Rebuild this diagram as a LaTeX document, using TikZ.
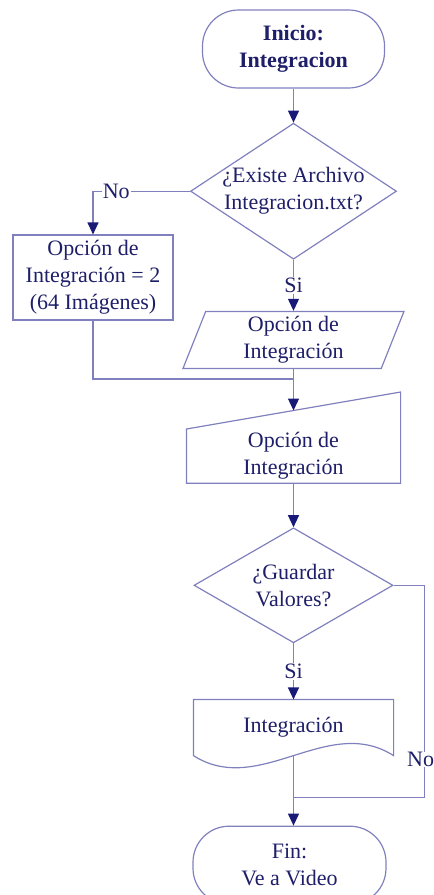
\documentclass[tikz,border=0pt]{standalone}
\usepackage{fontspec}
\setmainfont{Liberation Serif}
\usetikzlibrary{arrows.meta,positioning,shapes.geometric}
\definecolor{linecol}{RGB}{128,128,190}
\definecolor{textcol}{RGB}{30,30,105}
\definecolor{tipcol}{RGB}{25,25,120}
\tikzset{
    base/.style={draw=linecol,line width=1.2pt,text=textcol,align=center,inner sep=2pt},
    terminal/.style={base,rectangle,rounded corners=36pt,minimum width=182pt,minimum height=78pt},
    decision/.style={base,diamond,inner sep=-2pt},
    process/.style={base,rectangle,minimum width=160pt,minimum height=85pt},
    io/.style={base,trapezium,trapezium left angle=66,trapezium right angle=114,trapezium stretches body,minimum width=221pt,minimum height=57pt},
    manual/.style={base,draw=none,rectangle,minimum width=213pt,minimum height=53pt},
    document/.style={base,draw=none,rectangle,minimum width=199pt,minimum height=55pt},
    flow/.style={draw=linecol,line width=1.2pt,-{Triangle[length=12pt,width=11pt,color=tipcol]}},
    link/.style={draw=linecol,line width=1.2pt},
    answer/.style={fill=white,text=textcol,inner sep=1pt}
}

\begin{document}
\begin{tikzpicture}[x=1pt,y=1pt,font=\fontsize{22pt}{27pt}\selectfont]
    \useasboundingbox (0,0) rectangle (434,-895);

    \node[terminal] (start) at (293.5,-49) {\textbf{Inicio:}\\\textbf{Integracion}};
    \node[decision,aspect=1.515,minimum width=206pt,minimum height=136pt,below=34pt of start] (exists) {¿Existe Archivo\\Integracion.txt?};
    \node[process] (default) at (93,-277.5) {Opción de\\Integración = 2\\(64 Imágenes)};
    \node[io,below=51pt of exists] (read) {Opción de\\Integración};
    \coordinate[below=10pt of read.south] (merge);

    \node[manual,below=60pt of read] (show) {Opción de\\Integración};
    \draw[link] (show.south west) -- (show.north west) -- ([yshift=37pt]show.north east) -- (show.south east) -- cycle;
    \coordinate (show top) at ([yshift=18.5pt]show.north);

    \node[decision,aspect=1.73,minimum width=199pt,minimum height=115pt,below=44pt of show] (save) {¿Guardar\\Valores?};
    \node[document,below=56pt of save] (file) {Integración};
    \draw[link] (file.south west) -- (file.north west) -- (file.north east) -- (file.south east)
        .. controls +(-66pt,42pt) and +(66pt,-42pt) .. (file.south west) -- cycle;
    \coordinate[below=42pt of file.south] (rejoin);

    \node[terminal,minimum width=193pt,below=70pt of file,xshift=-4pt] (finish) {Fin:\\Ve a Video};

    % connectors
    \draw[flow] (start.south) -- (exists.north);
    \draw[flow] (exists.west) -| node[answer,pos=0.38] {No} (default.north);
    \draw[flow] (exists.south) -- node[answer] {Si} (read.north);
    \draw[link] (default.south) |- (merge);
    \draw[flow] (read.south) -- (show top);
    \draw[flow] (show.south) -- (save.north);
    \draw[link] (save.east) -- ++(31pt,0) |- node[answer,pos=0.41,xshift=-4pt,inner sep=0.5pt] {No} (rejoin);
    \draw[flow] (save.south) -- node[answer] {Si} (file.north);
    \draw[flow] (file.south) -- (rejoin) -- (rejoin |- finish.north);
\end{tikzpicture}
\end{document}
